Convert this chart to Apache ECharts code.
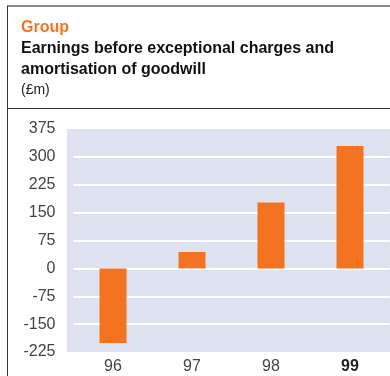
<!DOCTYPE html>
<html>
<head>
<meta charset="utf-8">
<script src="https://cdn.jsdelivr.net/npm/echarts@6/dist/echarts.min.js"></script>
<style>
html,body{margin:0;padding:0;background:#fff;}
#c{width:390px;height:376px;}
</style>
</head>
<body>
<div id="c"></div>
<script>
const categories = ['96', '97', '98', '99'];
const earnings = [-201, 44, 177, 329];
const yTicks = [-225, -150, -75, 0, 75, 150, 225, 300, 375];

const FONT = '"Liberation Sans", Arial, Helvetica, sans-serif';
const chart = echarts.init(document.getElementById('c'), null, {renderer: 'canvas'});
chart.setOption({
  animation: false,
  backgroundColor: '#ffffff',
  title: [
    {text: 'Group', left: 21, top: 20, padding: 0, textStyle: {fontFamily: FONT, fontSize: 16, fontWeight: 'bold', color: '#f47521'}},
    {text: 'Earnings before exceptional charges and', left: 21, top: 41, padding: 0, textStyle: {fontFamily: FONT, fontSize: 16, fontWeight: 'bold', color: '#111'}},
    {text: 'amortisation of goodwill', left: 21, top: 62, padding: 0, textStyle: {fontFamily: FONT, fontSize: 16, fontWeight: 'bold', color: '#111'}},
    {text: '(£m)', left: 21, top: 83, padding: 0, textStyle: {fontFamily: FONT, fontSize: 14, fontWeight: 'normal', color: '#222'}}
  ],
  graphic: [
    {type: 'rect', z: -10, shape: {x: 67, y: 129, width: 323, height: 223}, style: {fill: '#dfe2f1'}},
    {type: 'line', shape: {x1: 7, y1: 6, x2: 390, y2: 6}, style: {stroke: '#888', lineWidth: 2}},
    {type: 'line', shape: {x1: 7.5, y1: 6, x2: 7.5, y2: 376}, style: {stroke: '#333', lineWidth: 1}},
    {type: 'line', shape: {x1: 7, y1: 108.5, x2: 390, y2: 108.5}, style: {stroke: '#333', lineWidth: 1}}
  ],
  grid: {left: 73.5, right: 0.5, top: 129, bottom: 24, containLabel: false},
  xAxis: {
    type: 'category',
    data: categories,
    axisLine: {show: false},
    axisTick: {show: false},
    axisLabel: {
      margin: 7,
      fontFamily: FONT,
      fontSize: 16,
      color: '#444',
      formatter: function (v) { return v === '99' ? '{b|' + v + '}' : v; },
      rich: {b: {fontFamily: FONT, fontSize: 16, fontWeight: 'bold', color: '#222'}}
    }
  },
  yAxis: {
    type: 'value',
    min: yTicks[0],
    max: yTicks[yTicks.length - 1],
    interval: 75,
    axisLine: {show: false},
    axisTick: {show: false},
    axisLabel: {margin: 18, fontFamily: FONT, fontSize: 16, color: '#444', padding: [0, 0, 5, 0]},
    splitLine: {show: true, showMinLine: false, showMaxLine: false, lineStyle: {color: '#ffffff', width: 2}}
  },
  series: [{
    type: 'bar',
    data: earnings,
    barWidth: 27,
    itemStyle: {color: '#f47321'}
  }]
});
</script>
</body>
</html>
